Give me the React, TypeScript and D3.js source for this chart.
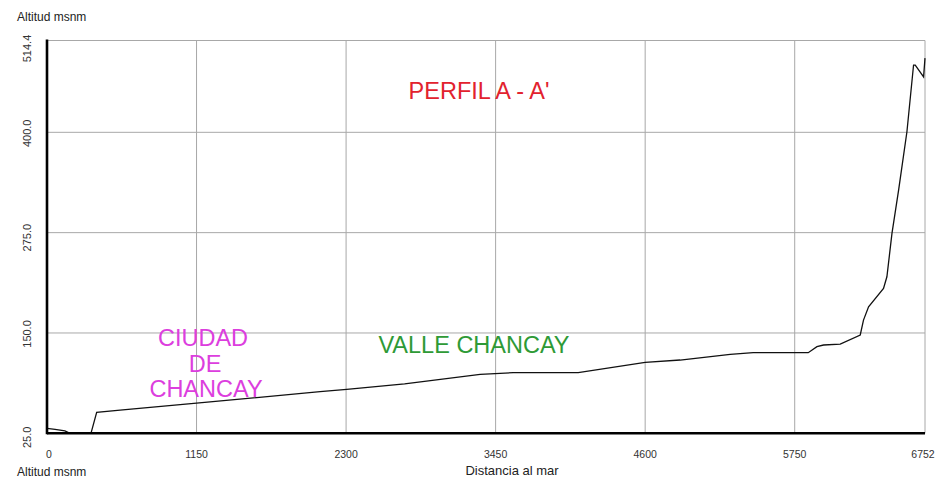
import React from "react";
import * as d3 from "d3";

const distances = [0, 62, 138, 177, 338, 382, 562, 1150, 2100, 2305, 2750, 3331, 3585, 4085, 4600, 4869, 5254, 5431, 5854, 5921, 5972, 6100, 6254, 6279, 6318, 6433, 6459, 6498, 6549, 6613, 6664, 6677, 6741, 6752];
const elevations = [31.2, 30, 27.9, 25, 25, 51.2, 54, 62.6, 76.8, 79.8, 86.5, 98.5, 100.5, 100.5, 113.4, 116.3, 123.4, 125.4, 125.4, 132.9, 135, 136.2, 147.5, 166, 182.7, 205.6, 220, 274, 328, 400.7, 483.8, 483.8, 469, 492.5];
const xTicks = [0, 1150, 2300, 3450, 4600, 5750, 6752];
const yTicks = [25, 150, 275, 400, 514.4];
const yTickLabels = ["25.0", "150.0", "275.0", "400.0", "514.4"];
const yLabelOffsets = [4, 1, 5, 1, 8];

const W = 939, H = 478;
const L = 47, R = 925, T = 40.5, B = 433.3;

export default function App() {
  const x = d3.scaleLinear().domain([0, 6752]).range([L, R]);
  const y = d3.scaleLinear().domain([25, 514.4]).range([B, T]);
  const pts = distances.map((d, i) => [d, elevations[i]] as [number, number]);
  const line = d3.line<[number, number]>().x(p => x(p[0])).y(p => y(p[1]));
  const font = "'Liberation Sans', Arial, sans-serif";
  return (
    <svg width={W} height={H} style={{ position: "absolute", left: 0, top: 0, background: "#fff" }} fontFamily={font}>
      <rect x={0} y={0} width={W} height={H} fill="#fff" />
      {/* grid */}
      {xTicks.slice(1).map(t => (
        <line key={"gx" + t} x1={x(t)} x2={x(t)} y1={T} y2={B} stroke="#a8a8a8" strokeWidth={1} />
      ))}
      {yTicks.slice(1).map(t => (
        <line key={"gy" + t} x1={L} x2={R} y1={y(t)} y2={y(t)} stroke="#a8a8a8" strokeWidth={1} />
      ))}
      {/* annotations */}
      <text x={479} y={99} fill="#e2222e" fontSize={23.5} textAnchor="middle">PERFIL A - A'</text>
      <text x={474} y={353} fill="#2e9a36" fontSize={23.5} textAnchor="middle">VALLE CHANCAY</text>
      <g fill="#dc3ede" fontSize={23.5} textAnchor="middle">
        <text x={203} y={346}>CIUDAD</text>
        <text x={205} y={372}>DE</text>
        <text x={206} y={397}>CHANCAY</text>
      </g>
      {/* profile */}
      <path d={line(pts) || ""} fill="none" stroke="#111" strokeWidth={1.3} />
      {/* axes */}
      <line x1={L} x2={L} y1={T - 1} y2={B + 1} stroke="#000" strokeWidth={2.6} />
      <line x1={L} x2={R} y1={B} y2={B} stroke="#000" strokeWidth={2.6} />
      {/* y tick labels */}
      {yTicks.map((t, i) => (
        <text key={"yl" + t} transform={`translate(31,${y(t) + yLabelOffsets[i]}) rotate(-90)`} textAnchor="middle" fontSize={11} fill="#333">
          {yTickLabels[i]}
        </text>
      ))}
      {/* x tick labels */}
      {xTicks.map((t, i) => (
        <text key={"xl" + t} x={i === 0 ? x(t) + 2 : x(t) - (i === xTicks.length - 1 ? 2 : 0)} y={458} textAnchor="middle" fontSize={10.5} fill="#333">
          {t}
        </text>
      ))}
      <text x={17} y={21} fontSize={12} fill="#222">Altitud msnm</text>
      <text x={17} y={476} fontSize={12} fill="#222">Altitud msnm</text>
      <text x={512} y={475} fontSize={13} textAnchor="middle" fill="#222">Distancia al mar</text>
    </svg>
  );
}
